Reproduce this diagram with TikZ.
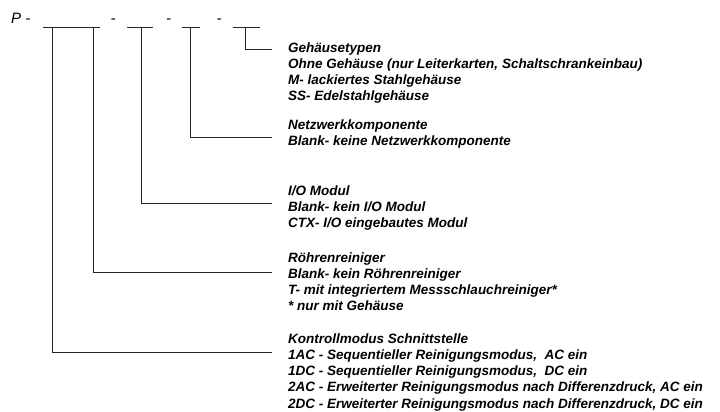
\documentclass[tikz,border=0pt]{standalone}
\usepackage{fontspec}
\setmainfont{Liberation Sans}
\usetikzlibrary{positioning}

\tikzset{
  code/.style   = {font=\itshape\fontsize{15}{16}\selectfont, inner sep=0pt, anchor=base},
  legend/.style = {font=\bfseries\itshape\fontsize{13.5}{16.2}\selectfont,
                   align=left, inner sep=0pt, anchor=north west},
  wire/.style   = {line width=1pt, draw=black!85},
}

\begin{document}
\begin{tikzpicture}[x = {(1pt,0pt)},
                    y = {(0pt,-1pt)}]

    \useasboundingbox (0,0) rectangle (720,412);

    \def\ul{28}   % Hoehe der Unterstriche
    \def\tx{288}  % linker Rand der Texte
    \def\ex{272}  % Ende der Verbinder
    \def\st{11.34}

    % Bestellschluessel
    \node[code, anchor=base west] (pfix) at (11,23.5) {P -};
    \node[code] (d1) at (113,23.5) {-};
    \node[code] (d2) at (168.5,23.5) {-};
    \node[code] (d3) at (219,23.5) {-};

    \draw[wire] (43,\ul) -- (100,\ul);
    \draw[wire] (127,\ul) -- (153,\ul);
    \draw[wire] (182,\ul) -- (200,\ul);
    \draw[wire] (233,\ul) -- (260,\ul);

    \coordinate (k1) at (52,\ul);
    \coordinate (k2) at (93,\ul);
    \coordinate (k3) at (141,\ul);
    \coordinate (k4) at (190,\ul);
    \coordinate (k5) at (245,\ul);

    \coordinate (e1) at (\ex,352);
    \coordinate (e2) at (\ex,272);
    \coordinate (e3) at (\ex,203);
    \coordinate (e4) at (\ex,137);
    \coordinate (e5) at (\ex,49.5);

    % Legenden
    \node[legend] (gehaeuse) at (\tx,52-\st)
        {\strut Gehäusetypen\\
         Ohne Gehäuse (nur Leiterkarten, Schaltschrankeinbau)\\
         M- lackiertes Stahlgehäuse\\
         SS- Edelstahlgehäuse};
    \node[legend] (netz) at (\tx,129.5-\st)
        {\strut Netzwerkkomponente\\
         Blank- keine Netzwerkkomponente};
    \node[legend] (iomod) at (\tx,195-\st)
        {\strut I/O Modul\\
         Blank- kein I/O Modul\\
         CTX- I/O eingebautes Modul};
    \node[legend] (roehre) at (\tx,262-\st)
        {\strut Röhrenreiniger\\
         Blank- kein Röhrenreiniger\\
         T- mit integriertem Messschlauchreiniger*\\
         * nur mit Gehäuse};
    \node[legend] (kontroll) at (\tx,343-\st)
        {\strut Kontrollmodus Schnittstelle\\
         1AC - Sequentieller Reinigungsmodus,\ \ AC ein\\
         1DC - Sequentieller Reinigungsmodus,\ \ DC ein\\
         2AC - Erweiterter Reinigungsmodus nach Differenzdruck, AC ein\\
         2DC - Erweiterter Reinigungsmodus nach Differenzdruck, DC ein};

    \draw[wire] (k1) |- (e1);
    \draw[wire] (k2) |- (e2);
    \draw[wire] (k3) |- (e3);
    \draw[wire] (k4) |- (e4);
    \draw[wire] (k5) |- (e5);
\end{tikzpicture}
\end{document}
